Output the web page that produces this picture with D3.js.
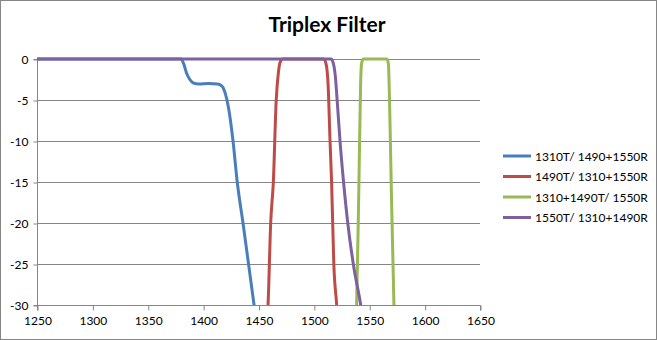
<!DOCTYPE html>
<html>
<head>
<meta charset="utf-8">
<script src="https://cdn.jsdelivr.net/npm/d3@7"></script>
<style>
  html, body { margin: 0; padding: 0; background: #fff; }
  svg { display: block; font-family: Lato, "Open Sans", sans-serif; }
</style>
</head>
<body>
<svg id="chart" width="657" height="340"></svg>
<script>
const title = "Triplex Filter";
const xTicks = [1250, 1300, 1350, 1400, 1450, 1500, 1550, 1600, 1650];
const yTicks = [0, -5, -10, -15, -20, -25, -30];
const seriesNames = ["1310T/ 1490+1550R", "1490T/ 1310+1550R", "1310+1490T/ 1550R", "1550T/ 1310+1490R"];
const seriesColors = ["#4A7EBB", "#BE4B48", "#98B954", "#7D60A0"];

const s1310T = [[1250,0],[1380,0],[1382.5,-0.6],[1385,-1.7],[1388,-2.5],[1391,-2.9],[1396,-3.05],[1405,-3.0],[1413,-3.05],[1417,-3.3],[1420,-4.2],[1423,-6],[1427,-10],[1430.8,-15],[1436,-20],[1441,-25],[1446,-30],[1448,-32]];
const s1490T = [[1457,-33],[1458.6,-30],[1461,-20],[1463.4,-15],[1466,-5],[1468,-1.6],[1469.8,-0.3],[1472,0],[1509,0],[1511,-0.6],[1512.8,-3],[1514.6,-10],[1516,-15],[1518,-25],[1520.6,-30],[1522,-33]];
const s1310_1490T = [[1537.5,-33],[1538.6,-30],[1540.7,-15],[1542.2,-3],[1543,-0.6],[1544.5,0],[1566,0],[1567.3,-0.6],[1568.3,-5],[1569.8,-15],[1572.3,-30],[1573,-33]];
const s1550T = [[1250,0],[1515.5,0],[1517.5,-0.5],[1519.3,-2],[1521,-5],[1523.6,-10],[1526.8,-15],[1530.6,-20],[1535.6,-25],[1542.3,-30],[1544,-31.5]];
const seriesData = [s1310T, s1490T, s1310_1490T, s1550T];

const svg = d3.select("#chart");
const W = 657, H = 340;
const plot = {left: 37, right: 480, top: 59, bottom: 305};

// outer border
svg.append("rect").attr("x", 0.5).attr("y", 0.5).attr("width", W - 1).attr("height", H - 1)
  .attr("fill", "#fff").attr("stroke", "#868686").attr("stroke-width", 1);

const x = d3.scaleLinear().domain([1250, 1650]).range([plot.left, plot.right]);
const y = d3.scaleLinear().domain([-30, 0]).range([plot.bottom, plot.top]);

// gridlines
svg.append("g").selectAll("line").data(yTicks.filter(d => d !== -30)).join("line")
  .attr("x1", plot.left).attr("x2", plot.right)
  .attr("y1", d => Math.round(y(d)) + 0.5).attr("y2", d => Math.round(y(d)) + 0.5)
  .attr("stroke", "#868686").attr("stroke-width", 1);

// x axis
const xAxis = d3.axisBottom(x).tickValues(xTicks).tickSize(5).tickPadding(6).tickFormat(d => String(d));
const gx = svg.append("g").attr("transform", `translate(0.5,${plot.bottom + 0.5})`).call(xAxis);
gx.select(".domain").attr("stroke", "#868686").attr("d", `M${plot.left},5V0H${plot.right}V5`);
gx.selectAll(".tick line").attr("stroke", "#868686");
gx.selectAll(".tick text").attr("font-size", 12).attr("fill", "#000").attr("font-family", "Lato, sans-serif");

// y axis
const yAxis = d3.axisLeft(y).tickValues(yTicks).tickSize(4).tickPadding(5).tickFormat(d => String(d));
const gy = svg.append("g").attr("transform", `translate(${plot.left + 0.5},0.5)`).call(yAxis);
gy.select(".domain").attr("stroke", "#868686").attr("d", `M-4,${plot.top}H0V${plot.bottom}H-4`);
gy.selectAll(".tick line").attr("stroke", "#868686");
gy.selectAll(".tick text").attr("font-size", 12).attr("fill", "#000").attr("font-family", "Lato, sans-serif");

// clip
svg.append("defs").append("clipPath").attr("id", "clip")
  .append("rect").attr("x", plot.left).attr("y", plot.top - 4)
  .attr("width", plot.right - plot.left).attr("height", plot.bottom - plot.top + 4);

const line = d3.line().x(d => x(d[0])).y(d => y(d[1])).curve(d3.curveMonotoneX);
svg.append("g").attr("clip-path", "url(#clip)").selectAll("path").data(seriesData).join("path")
  .attr("d", line)
  .attr("fill", "none")
  .attr("stroke", (d, i) => seriesColors[i])
  .attr("stroke-width", 3)
  .attr("stroke-linejoin", "round")
  .attr("stroke-linecap", "round");

// title
svg.append("text").attr("x", 327).attr("y", 32).attr("text-anchor", "middle")
  .attr("font-size", 21).attr("font-weight", "bold").attr("fill", "#000").text(title);

// legend
const lg = svg.append("g").selectAll("g").data(seriesNames).join("g")
  .attr("transform", (d, i) => `translate(503,${156 + i * 20.5})`);
lg.append("line").attr("x1", 0).attr("x2", 28).attr("y1", 0).attr("y2", 0)
  .attr("stroke", (d, i) => seriesColors[i]).attr("stroke-width", 3);
lg.append("text").attr("x", 32).attr("y", 4.5).attr("font-size", 12).attr("fill", "#000").text(d => d);
</script>
</body>
</html>
